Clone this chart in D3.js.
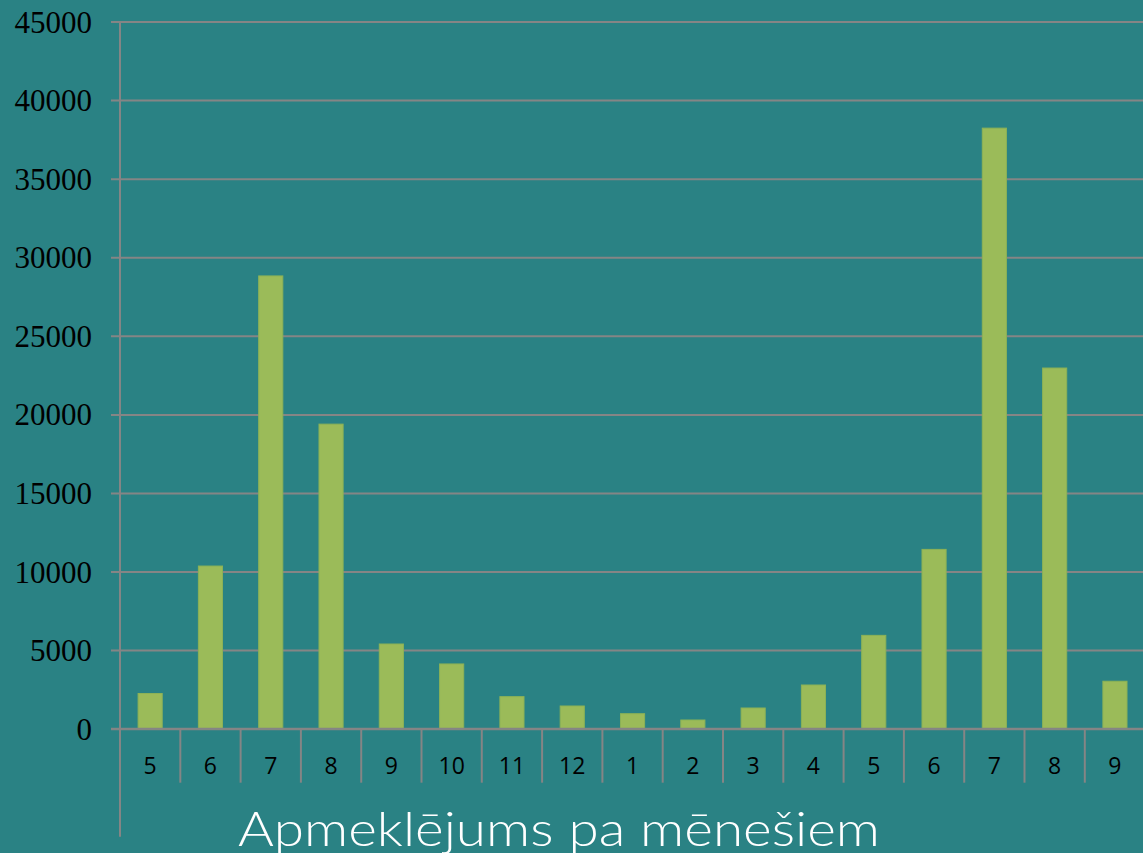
<!DOCTYPE html>
<html>
<head>
<meta charset="utf-8">
<script src="https://cdn.jsdelivr.net/npm/d3@7"></script>
<style>
  html, body { margin: 0; padding: 0; background: #2a8284; overflow: hidden; }
</style>
</head>
<body>
<script>
// chart data
var months = ['5', '6', '7', '8', '9', '10', '11', '12', '1', '2', '3', '4', '5', '6', '7', '8', '9'];
var visits = [2240, 10350, 28810, 19380, 5390, 4120, 2040, 1445, 955, 553, 1317, 2780, 5940, 11410, 38215, 22950, 3020];
var yTicks = [0, 5000, 10000, 15000, 20000, 25000, 30000, 35000, 40000, 45000];
var title = 'Apmeklējums pa mēnešiem';

var wW = 1143;
var wH = 853;

// plot frame (px)
var plotLeft = 120;
var plotTop = 21.5;
var plotBase = 728.7;
var step = 60.3;

var svg = d3.select('body').append('svg')
  .attr('width', wW)
  .attr('height', wH);

svg.append('rect')
  .attr('width', wW)
  .attr('height', wH)
  .attr('fill', '#2a8284');

var x = d3.scaleBand()
  .domain(d3.range(months.length))
  .range([plotLeft, plotLeft + step * months.length])
  .paddingInner(0.6)
  .paddingOuter(0.3);

var y = d3.scaleLinear()
  .domain([0, 45000])
  .range([plotBase, plotTop]);

// gridlines + y labels
var yAxis = d3.axisLeft(y)
  .tickValues(yTicks)
  .tickFormat(d3.format('d'))
  .tickSizeInner(-(wW - plotLeft))
  .tickSizeOuter(0)
  .tickPadding(28);

var gy = svg.append('g')
  .attr('transform', 'translate(' + plotLeft + ',0)')
  .call(yAxis);

gy.select('.domain').remove();
gy.selectAll('.tick line')
  .attr('x1', -9)
  .attr('stroke', '#858585')
  .attr('stroke-width', 2);
gy.selectAll('.tick text')
  .attr('font-family', '"Liberation Serif", serif')
  .attr('font-size', 31)
  .attr('fill', '#000')
  .attr('dy', '0.34em');

// bars
svg.append('g').selectAll('rect')
  .data(visits)
  .join('rect')
  .attr('x', (d, i) => x(i))
  .attr('y', d => y(d))
  .attr('width', x.bandwidth())
  .attr('height', d => y(0) - y(d))
  .attr('fill', '#9bbb59')
  .attr('stroke', '#8cb256')
  .attr('stroke-width', 1);

// category separators below the axis
svg.append('g').selectAll('line')
  .data(d3.range(1, months.length + 1))
  .join('line')
  .attr('x1', i => plotLeft + i * x.step())
  .attr('x2', i => plotLeft + i * x.step())
  .attr('y1', plotBase)
  .attr('y2', 782.7)
  .attr('stroke', '#858585')
  .attr('stroke-width', 2);

// category labels
svg.append('g').selectAll('text')
  .data(months)
  .join('text')
  .attr('x', (d, i) => x(i) + x.bandwidth() / 2)
  .attr('y', 774)
  .attr('text-anchor', 'middle')
  .attr('font-family', '"Open Sans", sans-serif')
  .attr('font-size', 23)
  .attr('fill', '#000')
  .text(d => d);

// x axis baseline
svg.append('line')
  .attr('x1', plotLeft - 9)
  .attr('x2', wW)
  .attr('y1', plotBase)
  .attr('y2', plotBase)
  .attr('stroke', '#858585')
  .attr('stroke-width', 2);

// y axis line
svg.append('line')
  .attr('x1', plotLeft)
  .attr('x2', plotLeft)
  .attr('y1', plotTop)
  .attr('y2', 836.7)
  .attr('stroke', '#858585')
  .attr('stroke-width', 2);

// title
svg.append('text')
  .attr('x', 559)
  .attr('y', 846)
  .attr('text-anchor', 'middle')
  .attr('font-family', 'Lato, sans-serif')
  .attr('font-weight', 300)
  .attr('font-size', 48)
  .attr('fill', '#fff')
  .attr('textLength', 642)
  .attr('lengthAdjust', 'spacingAndGlyphs')
  .text(title);
</script>
</body>
</html>
